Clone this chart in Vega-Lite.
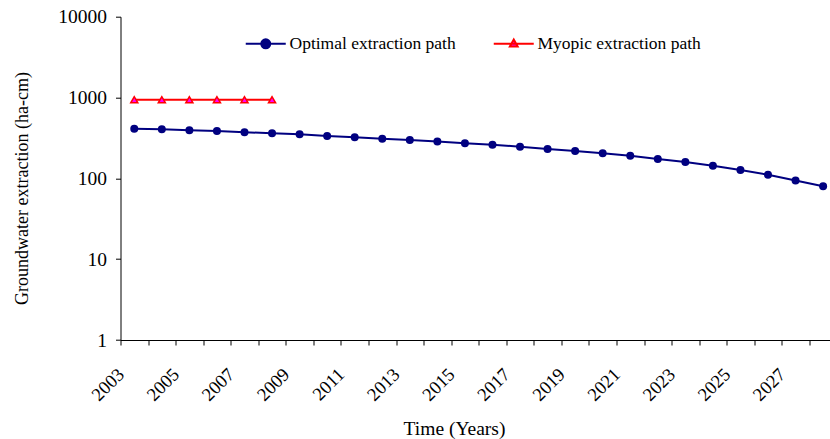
{
  "$schema": "https://vega.github.io/schema/vega-lite/v6.json",
  "width": 709.5,
  "height": 323.3,
  "autosize": {"type": "none"},
  "padding": {"left": 120.5, "top": 16.7, "right": 0, "bottom": 99},
  "background": "white",
  "config": {"view": {"stroke": null}, "font": "Liberation Serif"},
  "data": {"values": [
    {"year": 2003, "value": 412, "series": "Optimal extraction path"},
    {"year": 2004, "value": 405, "series": "Optimal extraction path"},
    {"year": 2005, "value": 393, "series": "Optimal extraction path"},
    {"year": 2006, "value": 386, "series": "Optimal extraction path"},
    {"year": 2007, "value": 372, "series": "Optimal extraction path"},
    {"year": 2008, "value": 361, "series": "Optimal extraction path"},
    {"year": 2009, "value": 351, "series": "Optimal extraction path"},
    {"year": 2010, "value": 334, "series": "Optimal extraction path"},
    {"year": 2011, "value": 322, "series": "Optimal extraction path"},
    {"year": 2012, "value": 310, "series": "Optimal extraction path"},
    {"year": 2013, "value": 298, "series": "Optimal extraction path"},
    {"year": 2014, "value": 286, "series": "Optimal extraction path"},
    {"year": 2015, "value": 271, "series": "Optimal extraction path"},
    {"year": 2016, "value": 261, "series": "Optimal extraction path"},
    {"year": 2017, "value": 246, "series": "Optimal extraction path"},
    {"year": 2018, "value": 231, "series": "Optimal extraction path"},
    {"year": 2019, "value": 218, "series": "Optimal extraction path"},
    {"year": 2020, "value": 204, "series": "Optimal extraction path"},
    {"year": 2021, "value": 191, "series": "Optimal extraction path"},
    {"year": 2022, "value": 173, "series": "Optimal extraction path"},
    {"year": 2023, "value": 159, "series": "Optimal extraction path"},
    {"year": 2024, "value": 143, "series": "Optimal extraction path"},
    {"year": 2025, "value": 127, "series": "Optimal extraction path"},
    {"year": 2026, "value": 111, "series": "Optimal extraction path"},
    {"year": 2027, "value": 94, "series": "Optimal extraction path"},
    {"year": 2028, "value": 80, "series": "Optimal extraction path"},
    {"year": 2003, "value": 940, "series": "Myopic extraction path"},
    {"year": 2004, "value": 940, "series": "Myopic extraction path"},
    {"year": 2005, "value": 940, "series": "Myopic extraction path"},
    {"year": 2006, "value": 940, "series": "Myopic extraction path"},
    {"year": 2007, "value": 940, "series": "Myopic extraction path"},
    {"year": 2008, "value": 940, "series": "Myopic extraction path"}
  ]},
  "encoding": {
    "x": {
      "field": "year", "type": "quantitative",
      "scale": {"domain": [2002.5, 2028.25], "nice": false, "zero": false},
      "axis": {
        "values": [2002.5, 2003.5, 2004.5, 2005.5, 2006.5, 2007.5, 2008.5, 2009.5, 2010.5, 2011.5, 2012.5, 2013.5, 2014.5, 2015.5, 2016.5, 2017.5, 2018.5, 2019.5, 2020.5, 2021.5, 2022.5, 2023.5, 2024.5, 2025.5, 2026.5, 2027.5],
        "labelExpr": "(datum.value - 2002.5) % 2 == 0 ? format(datum.value + 0.5, 'd') : ''",
        "labelAngle": -45, "labelAlign": "right", "labelBaseline": "middle",
        "labelPadding": 26, "labelFont": "Liberation Serif", "labelFontSize": 18.5, "labelColor": "#000000",
        "labelOverlap": false, "labelFlush": false, "labelBound": false,
        "tickSize": 5, "tickColor": "#000000", "domainColor": "#000000", "grid": false,
        "title": "Time (Years)", "titleFont": "Liberation Serif", "titleFontSize": 19.5, "titleFontWeight": "normal", "titleColor": "#000000",
        "titleX": 333.5, "titleY": 88, "titleAlign": "center", "titleBaseline": "middle"
      }
    },
    "y": {
      "field": "value", "type": "quantitative",
      "scale": {"type": "log", "domain": [1, 10000], "nice": false},
      "axis": {
        "values": [1, 10, 100, 1000, 10000], "format": "d",
        "labelFont": "Liberation Serif", "labelFontSize": 19.5, "labelColor": "#000000", "labelPadding": 9,
        "tickSize": 5, "tickColor": "#000000", "domainColor": "#000000", "grid": false,
        "title": "Groundwater extraction (ha-cm)", "titleFont": "Liberation Serif", "titleFontSize": 18, "titleFontWeight": "normal", "titleColor": "#000000",
        "titleX": -98.5, "titleY": 171.3, "titleAngle": -90, "titleAlign": "center", "titleBaseline": "middle"
      }
    }
  },
  "layer": [
    {
      "mark": {"type": "line", "strokeWidth": 2},
      "encoding": {
        "color": {"field": "series", "type": "nominal",
          "scale": {"domain": ["Optimal extraction path", "Myopic extraction path"], "range": ["#000080", "#FF0000"]},
          "legend": {
            "orient": "none", "legendX": 136.5, "legendY": 18, "direction": "horizontal", "title": null,
            "labelFont": "Liberation Serif", "labelFontSize": 17.5, "labelColor": "#000000", "labelLimit": 0,
            "symbolSize": 100, "labelOffset": 15, "columnPadding": 33, "padding": 0,
            "encode": {
              "symbols": {"update": {
                "shape": {"signal": "datum.value === 'Optimal extraction path' ? 'M-4,0L4,0M0.9,0A0.9,0.9,0,1,1,-0.9,0A0.9,0.9,0,1,1,0.9,0Z' : 'M-4,0L4,0M0,-0.85L0.78,0.55L-0.78,0.55Z'"},
                "fill": {"signal": "datum.value === 'Optimal extraction path' ? '#000080' : '#FF00FF'"},
                "strokeWidth": {"value": 2},
                "size": {"value": 100},
                "opacity": {"value": 1}
              }}
            }
          }}
      }
    },
    {
      "transform": [{"filter": "datum.series === 'Optimal extraction path'"}],
      "mark": {"type": "point", "shape": "circle", "filled": true, "color": "#000080", "opacity": 1, "size": 64}
    },
    {
      "transform": [{"filter": "datum.series === 'Myopic extraction path'"}],
      "mark": {"type": "point", "shape": "triangle-up", "filled": true, "fill": "#FF00FF", "stroke": "#FF0000", "strokeWidth": 1.5, "opacity": 1, "size": 50}
    }
  ]
}
